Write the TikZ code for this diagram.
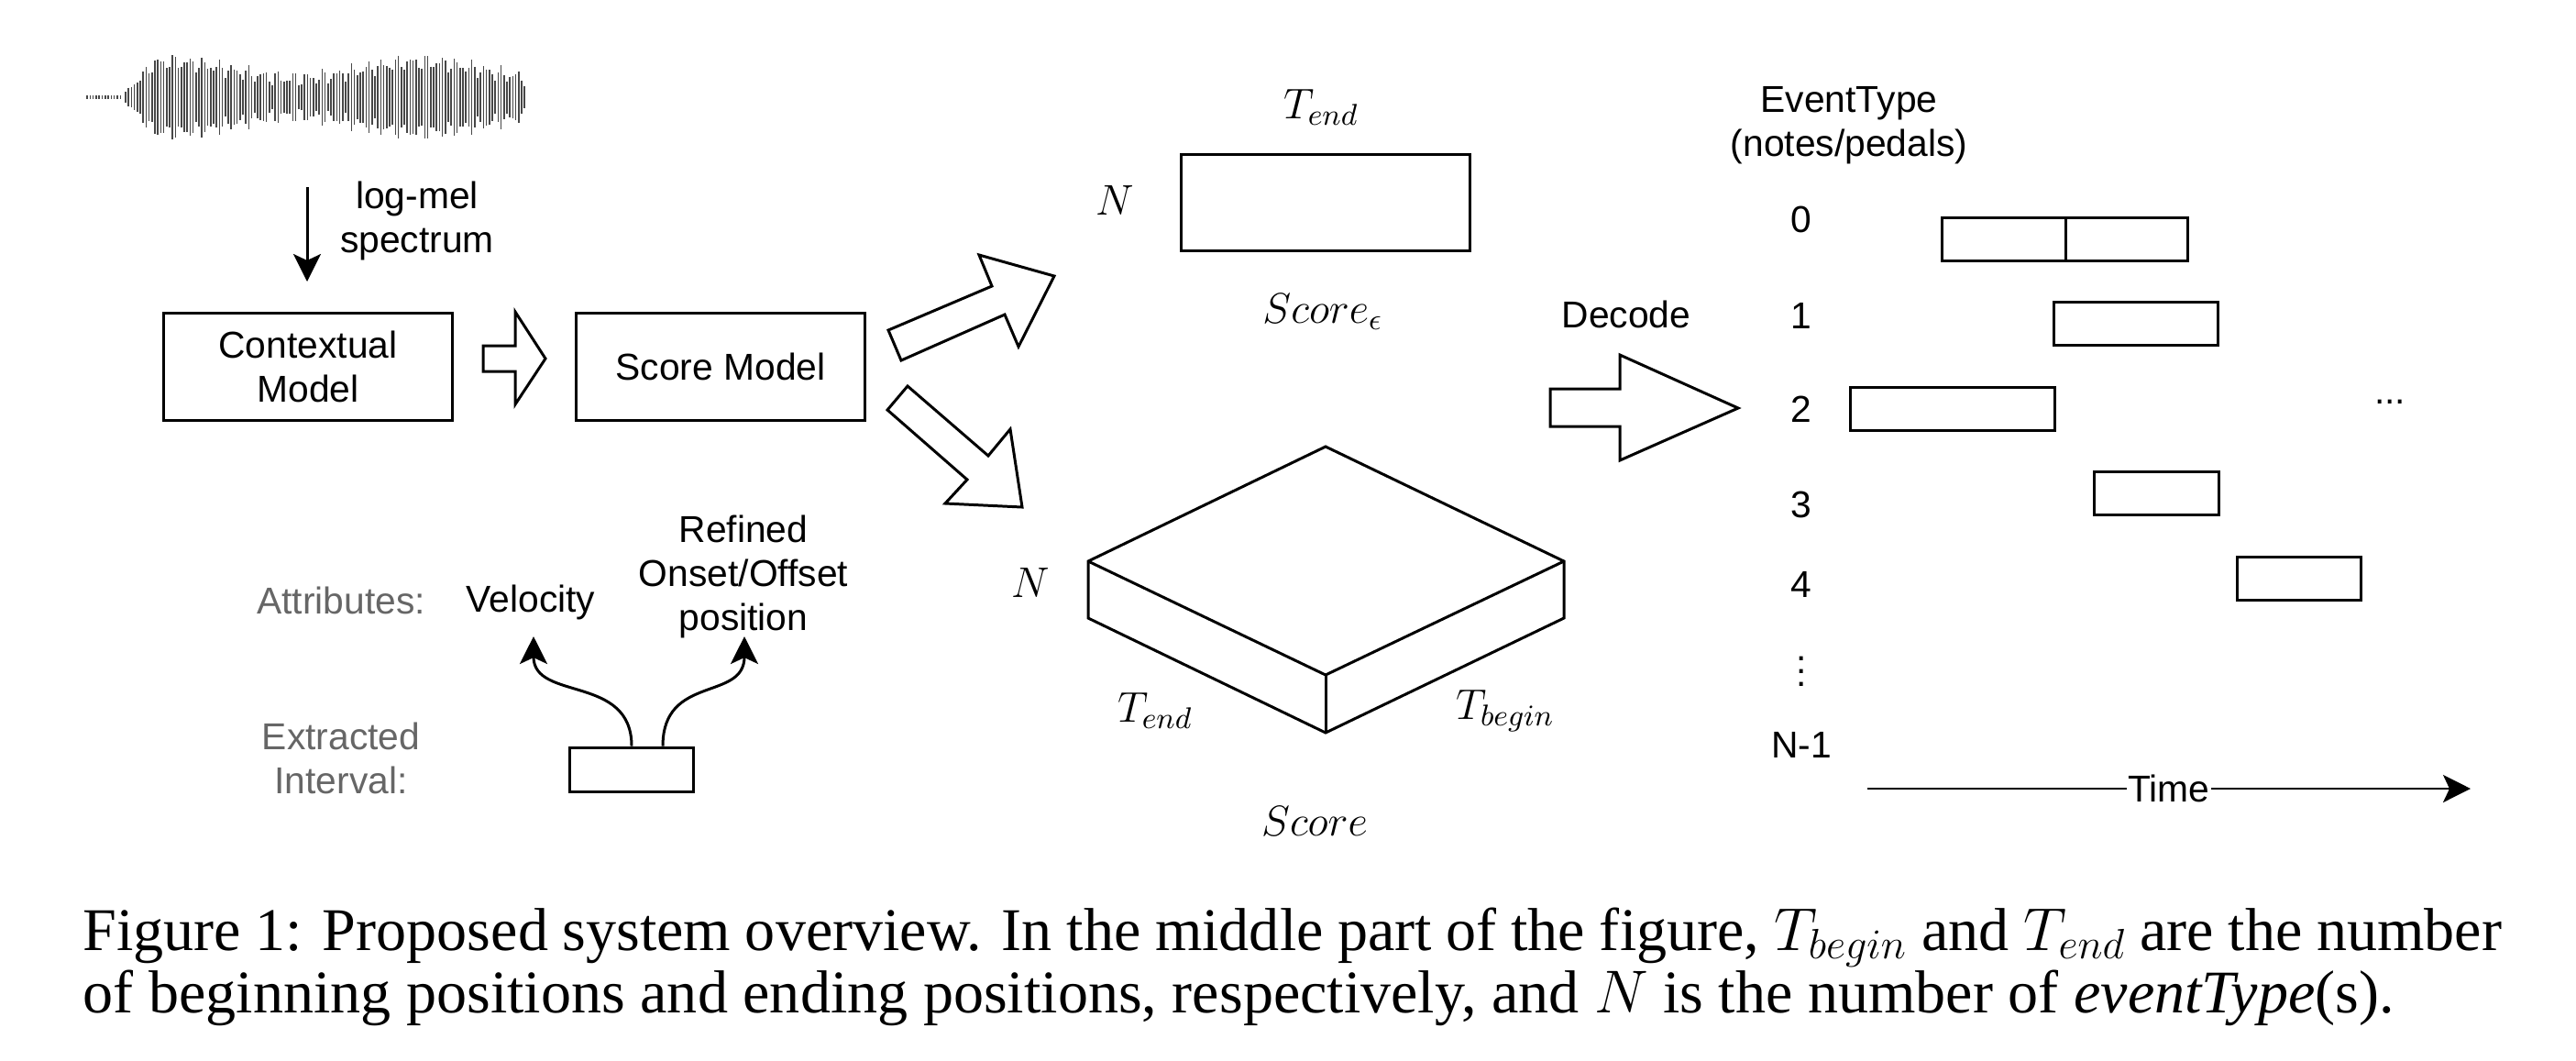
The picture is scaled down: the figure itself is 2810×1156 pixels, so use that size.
\documentclass[tikz,border=0pt]{standalone}
\usepackage{fix-cm}
\usepackage{fontspec}
\setmainfont{Liberation Serif}
\setsansfont{Liberation Sans}
\usepackage{tikz}
\usetikzlibrary{arrows.meta, positioning, calc}
\definecolor{attrgray}{HTML}{666666}

\begin{document}
\begin{tikzpicture}[
        x=0.01cm, y=-0.01cm,
        txt/.style={font=\fontsize{11.6}{13.7}\selectfont\sffamily, align=center, inner sep=0pt},
        attr/.style={txt, text=attrgray},
        mathlbl/.style={font=\fontsize{13.3}{16}\selectfont, inner sep=0pt},
        model/.style={rectangle, draw=black, line width=0.85pt, minimum width=3.14cm, minimum height=1.17cm, txt},
        evbar/.style={draw=black, line width=0.85pt},
        blockarrow/.style={draw=black, line width=0.85pt, line join=miter, fill=white},
        wavebar/.style={draw=black!72, line width=0.45pt},
        arrow/.style={-{Stealth[length=0.3cm, width=0.3cm, inset=0.07cm]}, line width=0.85pt},
        caption/.style={font=\fontsize{18.8}{22.6}\selectfont, anchor=base west, inner sep=0pt}
    ]
        \useasboundingbox (0,0) rectangle (2810,1156);

        \foreach \i in {0,...,11}
            \draw[wavebar] (95+3.3*\i,104) -- (95+3.3*\i,108);
        \foreach \i in {0,...,136}{
            \pgfmathsetmacro\amp{(29+9*cos(4.2*(\i-15))+6*sin(71*\i)+4*sin(113*\i+40))*min(1,(\i+2)/12)}
            \draw[wavebar] (137+3.2*\i,106-\amp) -- (137+3.2*\i,106+\amp);
        }

        \coordinate (melTop) at (335,204);
        \coordinate (melEnd) at (335,307);
        \draw[arrow] (melTop) -- (melEnd);
        \node[txt] (logmel) at (455,241) {log-mel\\spectrum};

        \node[model] (ctx) at (336,400) {Contextual\\Model};
        \node[model] (score) at (786,400) {Score Model};
        \draw[blockarrow] (527,377) -- (562,377) -- (562,340) -- (595,391) -- (562,441) -- (562,405) -- (527,405) -- cycle;

        \draw[blockarrow] (969,360) -- (1082,312) -- (1068,278) -- (1150,301) -- (1111,378) -- (1096,343) -- (983,393) -- cycle;
        \draw[blockarrow] (990,421) -- (1078,497) -- (1102,468) -- (1115,553) -- (1031,549) -- (1055,523) -- (968,447) -- cycle;

        \node[evbar, minimum width=3.14cm, minimum height=1.04cm] (epsMat) at (1446,221) {};
        \node[mathlbl] (nTop) at (1216,218) {$N$};
        \node[mathlbl] (tEndTop) at (1441,117) {$T_{end}$};
        \node[mathlbl] (epsLbl) at (1443,340) {$Score_{\epsilon}$};

        \coordinate (cubeTop) at (1446,487);
        \coordinate (cubeL) at (1187,612);
        \coordinate (cubeR) at (1706,612);
        \coordinate (cubeF) at (1446,736);
        \coordinate (cubeLB) at (1187,674);
        \coordinate (cubeRB) at (1706,674);
        \coordinate (cubeFB) at (1446,799);
        \draw[blockarrow] (cubeL) -- (cubeTop) -- (cubeR) -- (cubeRB) -- (cubeFB) -- (cubeLB) -- cycle;
        \draw[evbar] (cubeL) -- (cubeF) -- (cubeR);
        \draw[evbar] (cubeF) -- (cubeFB);
        \node[mathlbl] (nCube) at (1124,635) {$N$};
        \node[mathlbl] (tEndCube) at (1260,775) {$T_{end}$};
        \node[mathlbl] (tBeginCube) at (1642,775) {$T_{begin}$};
        \node[mathlbl] (scoreLbl) at (1434,895) {$Score$};

        \node[txt] (decode) at (1774,343) {Decode};
        \draw[blockarrow] (1691,424) -- (1767,424) -- (1767,387) -- (1896,445) -- (1767,502) -- (1767,465) -- (1691,465) -- cycle;

        \node[txt] (evtype) at (2017,137) {EventType\\(notes/pedals)};
        \foreach \lab/\yy [count=\k] in {0/239, 1/344, 2/446, 3/550, 4/637, {$\vdots$}/722, N-1/812}
            \node[txt] (row\k) at (1965,\yy) {\lab};
        \foreach \xa/\xb/\yy in {2118/2253/261, 2253/2386/261, 2240/2419/353, 2018/2241/446, 2284/2420/538, 2440/2575/631}
            \draw[evbar] (\xa,\yy-23.5) rectangle (\xb,\yy+23.5);
        \node[txt] (more) at (2607,438) {...};

        \coordinate (tStart) at (2037,860);
        \coordinate (tEnd) at (2695,860);
        \draw[arrow, line width=0.7pt] (tStart) -- node[txt, fill=white, inner xsep=0.5pt] (timeLbl) {Time} (tEnd);

        \node[attr] (attrLbl) at (372,655) {Attributes:};
        \node[txt] (vel) at (579,657) {Velocity};
        \node[txt] (refined) at (811,629) {Refined\\Onset/Offset\\position};
        \node[attr] (extrLbl) at (372,827) {Extracted\\Interval:};
        \node[evbar, minimum width=1.34cm, minimum height=0.48cm] (ivl) at (689,839) {};
        \coordinate (velTip) at (582,694);
        \coordinate (posTip) at (812,694);
        \draw[arrow] (ivl.north) .. controls (689,735) and (582,765) .. (velTip);
        \draw[arrow] ([xshift=0.34cm]ivl.north) .. controls (723,735) and (812,765) .. (posTip);

        \node[caption] (capA) at (90,1036) {\makebox[26.37cm][s]{Figure 1: Proposed system overview. In the middle part of the figure, $T_{begin}$ and $T_{end}$ are the number}};
        \node[caption] (capB) at (90,1104) {of beginning positions and ending positions, respectively, and $N$ is the number of \textit{eventType}(s).};
    \end{tikzpicture}
\end{document}
